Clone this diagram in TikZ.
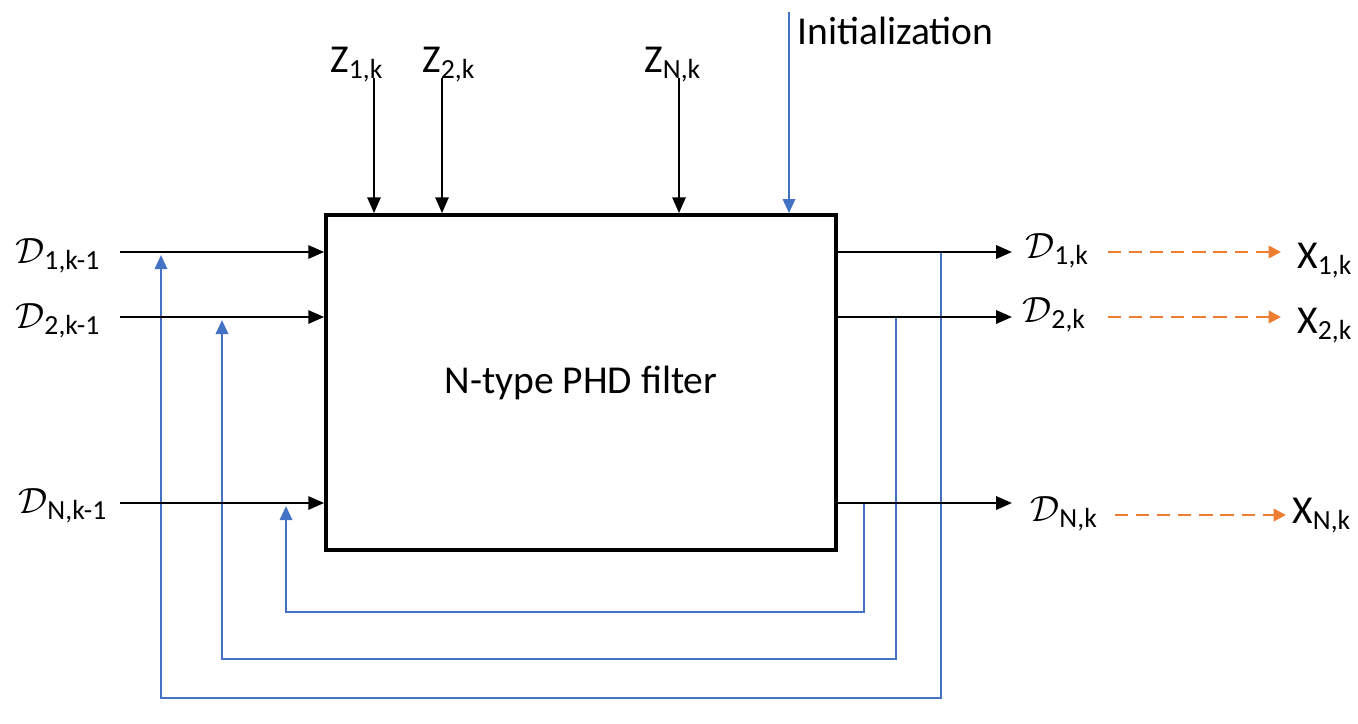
\documentclass[tikz,border=0pt]{standalone}
\usepackage{fontspec}
\setmainfont{Carlito}
\usetikzlibrary{arrows.meta}
\definecolor{fblue}{HTML}{4472C4}
\definecolor{forange}{HTML}{ED7D31}
\tikzset{
  lbl/.style={inner sep=0pt, anchor=base west, font=\fontsize{22.5}{27}\selectfont},
  blk/.style={line width=1.4pt, -{Triangle[length=9pt,width=7.5pt]}},
  fb/.style={fblue, line width=1.4pt, -{Triangle[length=8pt,width=7pt]}},
  oarr/.style={forange, line width=1.5pt, dash pattern=on 7.5pt off 4.5pt, -{Triangle[length=7pt,width=7pt]}},
  boxst/.style={draw, line width=2.2pt, minimum width=10.2cm, minimum height=6.7cm, font=\fontsize{22.5}{27}\selectfont},
}
\newcommand{\Dsym}{$\mathcal{D}$}
\begin{document}
\begin{tikzpicture}[x=0.02cm,y=-0.02cm]
\useasboundingbox (0,0) rectangle (1358,723);
% feedback loops (drawn first)
\coordinate (f1a) at (941,252); \coordinate (f1b) at (161,698); \coordinate (f1c) at (161,255);
\coordinate (f2a) at (896,317); \coordinate (f2b) at (222,659); \coordinate (f2c) at (222,320);
\coordinate (f3a) at (864,503); \coordinate (f3b) at (286,612); \coordinate (f3c) at (286,506);
\draw[fb] (f1a) |- (f1b) -- (f1c);
\draw[fb] (f2a) |- (f2b) -- (f2c);
\draw[fb] (f3a) |- (f3b) -- (f3c);
% main box
\node[boxst] (box) at (581,382.5) {N-type PHD filter};
% left inputs
\node[lbl] (ld1) at (15,263) {\Dsym\textsubscript{1,k-1}};
\node[lbl] (ld2) at (15,328) {\Dsym\textsubscript{2,k-1}};
\node[lbl] (ldn) at (18,513) {\Dsym\textsubscript{N,k-1}};
\coordinate (in1) at (120,252);
\coordinate (in2) at (120,317);
\coordinate (inn) at (120,503);
\draw[blk] (in1) -- (in1 -| box.west);
\draw[blk] (in2) -- (in2 -| box.west);
\draw[blk] (inn) -- (inn -| box.west);
% top inputs
\node[lbl] (lz1) at (330,72) {Z\textsubscript{1,k}};
\node[lbl] (lz2) at (422,72) {Z\textsubscript{2,k}};
\node[lbl] (lzn) at (644,72) {Z\textsubscript{N,k}};
\node[lbl] (linit) at (797,45) {Initialization};
\coordinate (z1) at (374,78);
\coordinate (z2) at (442,78);
\coordinate (zn) at (679,78);
\coordinate (init) at (789,12);
\draw[blk] (z1) -- (z1 |- box.north);
\draw[blk] (z2) -- (z2 |- box.north);
\draw[blk] (zn) -- (zn |- box.north);
\draw[fb] (init) -- (init |- box.north);
% outputs
\coordinate (out1) at (1012,252);
\coordinate (out2) at (1012,317);
\coordinate (outn) at (1012,503);
\draw[blk] (out1 -| box.east) -- (out1);
\draw[blk] (out2 -| box.east) -- (out2);
\draw[blk] (outn -| box.east) -- (outn);
\node[lbl] (rd1) at (1025,258) {\Dsym\textsubscript{1,k}};
\node[lbl] (rd2) at (1022,322) {\Dsym\textsubscript{2,k}};
\node[lbl] (rdn) at (1030,521) {\Dsym\textsubscript{N,k}};
\node[lbl] (x1) at (1297,268) {X\textsubscript{1,k}};
\node[lbl] (x2) at (1297,333) {X\textsubscript{2,k}};
\node[lbl] (xn) at (1292,523) {X\textsubscript{N,k}};
\coordinate (o1s) at (1108,252); \coordinate (o1e) at (1281,252);
\coordinate (o2s) at (1108,317); \coordinate (o2e) at (1281,317);
\coordinate (ons) at (1115,515); \coordinate (one) at (1286,515);
\draw[oarr] (o1s) -- (o1e);
\draw[oarr] (o2s) -- (o2e);
\draw[oarr] (ons) -- (one);
\end{tikzpicture}
\end{document}
